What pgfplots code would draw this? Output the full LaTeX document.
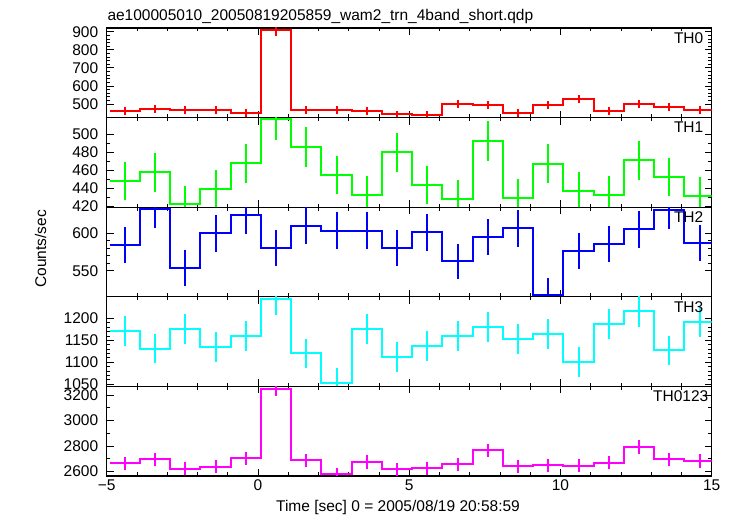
\documentclass[border=0pt]{standalone}
\usepackage{pgfplots}
\pgfplotsset{compat=1.18}
\usepackage{pgfplotstable}
\usepackage{fontspec}
\setmainfont{Liberation Sans}

\definecolor{qred}{rgb}{1,0,0}
\definecolor{qgreen}{rgb}{0,1,0}
\definecolor{qblue}{rgb}{0,0,1}
\definecolor{qcyan}{rgb}{0,1,1}
\definecolor{qmag}{rgb}{1,0,1}

% columns: bin centre, rate, error (first and last rows: outer bin edges)
\pgfplotstableread{
x y e
-4.9 461.5 0
-4.4 461.5 21.5
-3.4 470.6 21.7
-2.4 467.0 21.6
-1.4 465.0 21.6
-0.4 448.6 21.2
0.6 909.0 30.1
1.6 469.0 21.7
2.6 467.0 21.6
3.6 463.0 21.5
4.6 443.0 21.0
5.6 439.4 21.0
6.6 500.0 22.4
7.6 496.0 22.3
8.6 449.0 21.2
9.6 493.0 22.2
10.6 527.5 23.0
11.6 463.0 21.5
12.6 498.0 22.3
13.6 482.0 22.0
14.6 467.0 21.6
15.1 467.0 0
}\thzero

\pgfplotstableread{
x y e
-4.9 447.8 0
-4.4 447.8 21.2
-3.4 457.4 21.4
-2.4 422.0 20.5
-1.4 438.9 20.9
-0.4 467.8 21.6
0.6 516.7 22.7
1.6 485.6 22.0
2.6 454.4 21.3
3.6 432.2 20.8
4.6 480.0 21.9
5.6 443.3 21.1
6.6 428.1 20.7
7.6 492.2 22.2
8.6 428.9 20.7
9.6 467.4 21.6
10.6 436.7 20.9
11.6 432.2 20.8
12.6 471.1 21.7
13.6 452.2 21.3
14.6 431.1 20.8
15.1 431.1 0
}\thone

\pgfplotstableread{
x y e
-4.9 583.9 0
-4.4 583.9 24.2
-3.4 632.1 25.1
-2.4 553.6 23.5
-1.4 600.0 24.5
-0.4 624.6 25.0
0.6 579.9 24.1
1.6 609.8 24.7
2.6 603.6 24.6
3.6 603.6 24.6
4.6 579.9 24.1
5.6 601.3 24.5
6.6 562.5 23.7
7.6 595.1 24.4
8.6 606.7 24.6
9.6 517.9 22.8
10.6 576.8 24.0
11.6 586.2 24.2
12.6 605.4 24.6
13.6 630.8 25.1
14.6 587.5 24.2
15.1 587.5 0
}\thtwo

\pgfplotstableread{
x y e
-4.9 1171.2 0
-4.4 1171.2 34.2
-3.4 1131.1 33.6
-2.4 1175.0 34.3
-1.4 1134.1 33.7
-0.4 1159.8 34.1
0.6 1243.9 35.3
1.6 1120.5 33.5
2.6 1054.0 32.5
3.6 1175.0 34.3
4.6 1112.1 33.3
5.6 1136.4 33.7
6.6 1160.6 34.1
7.6 1180.3 34.4
8.6 1152.3 33.9
9.6 1165.2 34.1
10.6 1100.8 33.2
11.6 1187.1 34.5
12.6 1215.9 34.9
13.6 1127.3 33.6
14.6 1190.9 34.5
15.1 1190.9 0
}\ththree

\pgfplotstableread{
x y e
-4.9 2665 0
-4.4 2665 51.6
-3.4 2696 51.9
-2.4 2623.5 51.2
-1.4 2639 51.4
-0.4 2704 52.0
0.6 3250 57.0
1.6 2688 51.8
2.6 2579 50.8
3.6 2676 51.7
4.6 2618 51.2
5.6 2626 51.2
6.6 2657 51.5
7.6 2767 52.6
8.6 2642 51.4
9.6 2650 51.5
10.6 2647 51.4
11.6 2671 51.7
12.6 2791 52.8
13.6 2696 51.9
14.6 2683 51.8
15.1 2683 0
}\thsum

\pgfplotsset{
  panel/.style={
    scale only axis, width=605bp, height=89.6bp,
    anchor=south west,
    xmin=-5, xmax=15,
    xtick={-5,0,5,10,15}, minor x tick num=4,
    xticklabels={},
    tick align=inside,
    xtick pos=both, ytick pos=both,
    xticklabel pos=lower, yticklabel pos=left,
    major tick length=7bp, minor tick length=3.5bp,
    tick style={black, line width=0.8bp},
    axis line style={line width=1.1bp, black},
    scaled y ticks=false,
    /pgf/number format/assume math mode=true,
    /pgf/number format/1000 sep={},
    tick label style={font=\fontsize{15.5bp}{18bp}\selectfont},
    yticklabel style={xshift=-5bp},
  },
  qdp/.style={draw=#1, color=#1, line width=2bp, mark=none,
    const plot mark mid,
    error bars/.cd, y dir=both, y explicit, error mark=none,
    error bar style={draw=#1, line width=2bp}},
}

\begin{document}
\begin{tikzpicture}[font=\fontsize{15.5bp}{18bp}\selectfont]
\path[use as bounding box] (0,0) rectangle (733bp,516bp);

% TH0
\begin{axis}[panel, at={(106.7bp,398.4bp)}, ymin=425, ymax=920.5,
  ytick={500,600,700,800,900}, minor y tick num=4]
\addplot[qdp=qred] table[x=x, y=y, y error=e] {\thzero};
\end{axis}

% TH1
\begin{axis}[panel, at={(106.7bp,308.8bp)}, ymin=418.7, ymax=518.6,
  ytick={420,440,460,480,500}, minor y tick num=1]
\addplot[qdp=qgreen] table[x=x, y=y, y error=e] {\thone};
\end{axis}

% TH2
\begin{axis}[panel, at={(106.7bp,219.2bp)}, ymin=515.1, ymax=634.9,
  ytick={550,600}, minor y tick num=4]
\addplot[qdp=qblue] table[x=x, y=y, y error=e] {\thtwo};
\end{axis}

% TH3
\begin{axis}[panel, at={(106.7bp,129.6bp)}, ymin=1045.2, ymax=1248.9,
  ytick={1050,1100,1150,1200}, minor y tick num=4]
\addplot[qdp=qcyan] table[x=x, y=y, y error=e] {\ththree};
\end{axis}

% TH0123
\begin{axis}[panel, at={(106.7bp,40bp)}, ymin=2566, ymax=3267,
  ytick={2600,2800,3000,3200}, minor y tick num=1,
  xticklabels={−5,0,5,10,15}]
\addplot[qdp=qmag] table[x=x, y=y, y error=e] {\thsum};
\end{axis}

% panel labels
\node[anchor=base east, inner sep=0] at (703.5bp,472.7bp) {TH0};
\node[anchor=base east, inner sep=0] at (703.5bp,383.1bp) {TH1};
\node[anchor=base east, inner sep=0] at (703.5bp,293.5bp) {TH2};
\node[anchor=base east, inner sep=0] at (703.5bp,203.9bp) {TH3};
\node[anchor=base east, inner sep=0] at (708.5bp,114.3bp) {TH0123};

% title and axis labels
\node[anchor=base west, inner sep=0] at (107.3bp,495.3bp)
  {ae100005010\_20050819205859\_wam2\_trn\_4band\_short.qdp};
\node[anchor=base, inner sep=0] at (398bp,4.3bp)
  {Time [sec] 0 = 2005/08/19 20:58:59};
\node[anchor=base, inner sep=0, rotate=90] at (46bp,267bp) {Counts/sec};
\end{tikzpicture}
\end{document}
